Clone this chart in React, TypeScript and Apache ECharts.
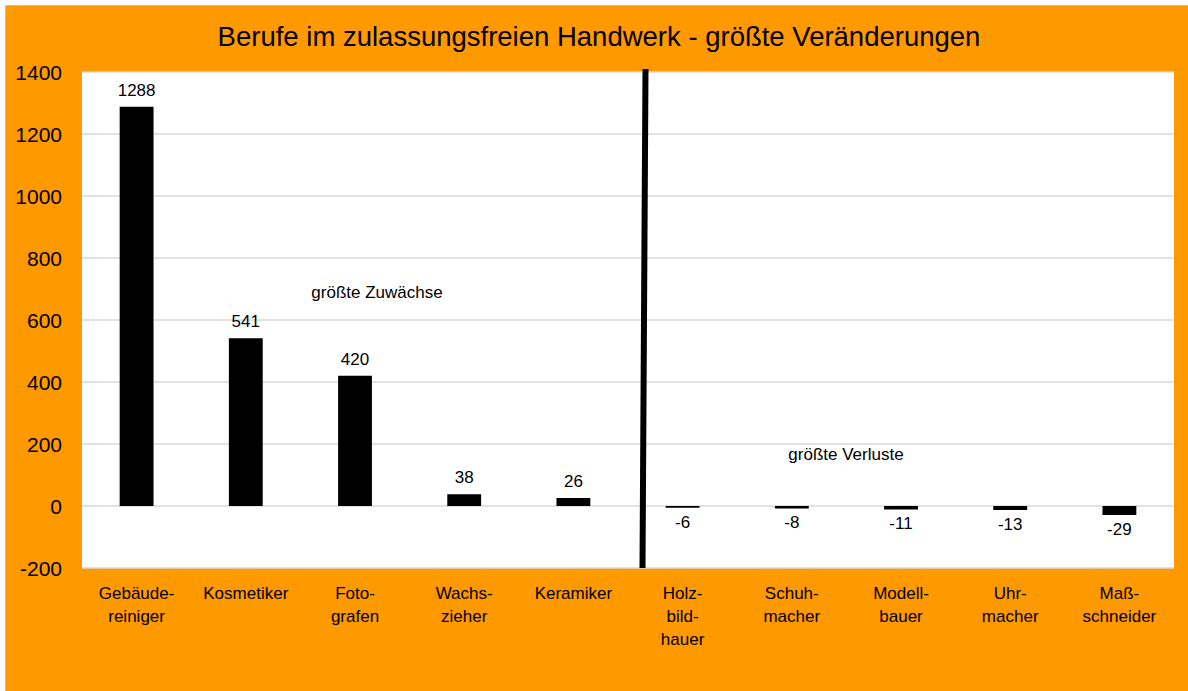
import React, { useEffect, useRef } from 'react';
import * as echarts from 'echarts';

const titleText = 'Berufe im zulassungsfreien Handwerk - größte Veränderungen';
const categories = [
  'Gebäude-\nreiniger',
  'Kosmetiker',
  'Foto-\ngrafen',
  'Wachs-\nzieher',
  'Keramiker',
  'Holz-\nbild-\nhauer',
  'Schuh-\nmacher',
  'Modell-\nbauer',
  'Uhr-\nmacher',
  'Maß-\nschneider',
];
const values = [1288, 541, 420, 38, 26, -6, -8, -11, -13, -29];
const yMin = -200;
const yMax = 1400;
const yInterval = 200;
const noteGain = 'größte Zuwächse';
const noteLoss = 'größte Verluste';

const FONT = "'Liberation Sans', Arial, sans-serif";

export default function App() {
  const ref = useRef<HTMLDivElement>(null);
  useEffect(() => {
    document.body.style.margin = '0';
    const chart = echarts.init(ref.current!, null, { renderer: 'svg' });
    const data = values.map((v) => ({
      value: v,
      label: { position: v < 0 ? 'bottom' : 'top', distance: v < 0 ? 6 : 8 },
    }));
    chart.setOption({
      animation: false,
      backgroundColor: '#ffffff',
      textStyle: { fontFamily: FONT },
      grid: {
        left: 82,
        top: 72,
        right: 14,
        bottom: 123,
        show: true,
        backgroundColor: '#ffffff',
        borderWidth: 0,
        containLabel: false,
      },
      graphic: [
        {
          type: 'rect',
          z: -100,
          silent: true,
          shape: { x: 5.5, y: 5.5, width: 1190, height: 690 },
          style: { fill: '#FF9900', stroke: '#BDBDBD', lineWidth: 1 },
        },
        {
          type: 'text',
          x: 599,
          y: 36,
          style: {
            text: titleText,
            fontSize: 27.5,
            fontFamily: FONT,
            fill: '#000',
            align: 'center',
            verticalAlign: 'middle',
            textAlign: 'center',
            textVerticalAlign: 'middle',
          },
        },
        {
          type: 'text',
          x: 377,
          y: 292,
          z: 10,
          style: {
            text: noteGain,
            fontSize: 17,
            fontFamily: FONT,
            fill: '#000',
            align: 'center',
            verticalAlign: 'middle',
            textAlign: 'center',
            textVerticalAlign: 'middle',
          },
        },
        {
          type: 'text',
          x: 846,
          y: 454,
          z: 10,
          style: {
            text: noteLoss,
            fontSize: 17,
            fontFamily: FONT,
            fill: '#000',
            align: 'center',
            verticalAlign: 'middle',
            textAlign: 'center',
            textVerticalAlign: 'middle',
          },
        },
        {
          type: 'line',
          z: 10,
          shape: { x1: 645.5, y1: 69, x2: 642.5, y2: 568 },
          style: { stroke: '#000', lineWidth: 6 },
        },
      ],
      xAxis: {
        type: 'category',
        data: categories,
        axisLine: { show: false },
        axisTick: { show: false },
        axisLabel: {
          interval: 0,
          margin: 14,
          color: '#000',
          fontSize: 17,
          lineHeight: 23,
          fontFamily: FONT,
        },
      },
      yAxis: {
        type: 'value',
        min: yMin,
        max: yMax,
        interval: yInterval,
        axisLine: { show: false },
        axisTick: { show: false },
        axisLabel: {
          color: '#000',
          fontSize: 21,
          margin: 20,
          fontFamily: FONT,
          formatter: (v: number) => String(v),
        },
        splitLine: { lineStyle: { color: '#D9D9D9', width: 1.5 } },
      },
      series: [
        {
          type: 'bar',
          data,
          barWidth: '31%',
          itemStyle: { color: '#000' },
          label: {
            show: true,
            color: '#000',
            fontSize: 17,
            fontFamily: FONT,
          },
        },
      ],
    });
    return () => chart.dispose();
  }, []);
  return (
    <div
      ref={ref}
      style={{ position: 'fixed', left: 0, top: 0, width: 1188, height: 691 }}
    />
  );
}
